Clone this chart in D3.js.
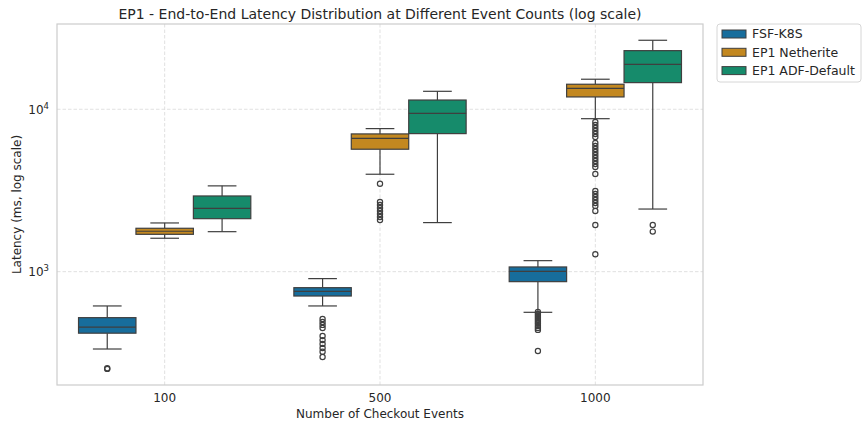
<!DOCTYPE html>
<html>
<head>
<meta charset="utf-8">
<script src="https://cdn.jsdelivr.net/npm/d3@7"></script>
<style>
  body { margin: 0; background: #fff; }
  svg { display: block; font-family: "DejaVu Sans", sans-serif; }
</style>
</head>
<body>
<svg id="chart" width="863" height="426"></svg>
<script>
// ---- Data ----
const categories = ["100", "500", "1000"];
const seriesNames = ["FSF-K8S", "EP1 Netherite", "EP1 ADF-Default"];
const seriesColors = ["#176d9c", "#c38820", "#168b6b"];

// box stats per category: [whiskerLow, q1, median, q3, whiskerHigh]
const fsfStats = [[334, 418, 455, 521, 615], [615, 708, 757, 797, 906], [562, 868, 1005, 1069, 1169]];
const netheriteStats = [[1606, 1698, 1773, 1850, 1995], [3980, 5675, 6620, 7050, 7600], [8750, 11910, 13460, 14260, 15310]];
const adfStats = [[1763, 2120, 2455, 2925, 3375], [2005, 7080, 9440, 11400, 12900], [2430, 14590, 18920, 22960, 26600]];

// outliers per category
const fsfOutliers = [
  [252, 254],
  [512, 490, 470, 450, 402, 379, 359, 339, 321, 298],
  [565, 549, 534, 519, 504, 490, 477, 463, 450, 438, 325]
];
const netheriteOutliers = [
  [],
  [3478, 2687, 2575, 2468, 2366, 2265, 2173, 2080],
  [8356, 7998, 7674, 7345, 7047, 6745, 6209, 5943, 5702, 5458, 5233, 5012, 4808, 4602, 4413, 3998,
   3140, 3006, 2884, 2761, 2649, 2541, 2364, 1940, 1280]
];
const adfOutliers = [[], [], [1940, 1765]];

const yTicks = [1000, 10000];
const yDomain = [200.5, 33500];

const allStats = [fsfStats, netheriteStats, adfStats];
const allOutliers = [fsfOutliers, netheriteOutliers, adfOutliers];

// ---- Layout ----
const svg = d3.select("#chart");
const M = { left: 57, right: 703, top: 24, bottom: 385 };

const x = d3.scaleBand().domain(categories).range([M.left, M.right]).padding(0);
const bw = x.bandwidth();
const xInner = d3.scaleBand().domain(seriesNames).range([0.1 * bw, 0.9 * bw]).padding(0);
const y = d3.scaleLog().domain(yDomain).range([M.bottom, M.top]);

const lineColor = "#3f3f3f";
const gridColor = "#dedede";

// grid
const grid = svg.append("g");
grid.selectAll("line.h").data(yTicks).join("line")
  .attr("x1", M.left).attr("x2", M.right)
  .attr("y1", d => y(d)).attr("y2", d => y(d))
  .attr("stroke", gridColor).attr("stroke-width", 0.9).attr("stroke-dasharray", "3.5,2");
grid.selectAll("line.v").data(categories).join("line")
  .attr("x1", d => x(d) + bw / 2).attr("x2", d => x(d) + bw / 2)
  .attr("y1", M.top).attr("y2", M.bottom)
  .attr("stroke", gridColor).attr("stroke-width", 0.9).attr("stroke-dasharray", "3.5,2");

// boxes
const boxes = svg.append("g");
seriesNames.forEach((s, si) => {
  categories.forEach((c, ci) => {
    const [wl, q1, med, q3, wh] = allStats[si][ci];
    const bx = x(c) + xInner(s);
    const w = xInner.bandwidth();
    const cx = bx + w / 2;
    const g = boxes.append("g");
    // whiskers
    g.append("line").attr("x1", cx).attr("x2", cx).attr("y1", y(q3)).attr("y2", y(wh))
      .attr("stroke", lineColor).attr("stroke-width", 1.2);
    g.append("line").attr("x1", cx).attr("x2", cx).attr("y1", y(q1)).attr("y2", y(wl))
      .attr("stroke", lineColor).attr("stroke-width", 1.2);
    g.append("line").attr("x1", cx - w / 4).attr("x2", cx + w / 4).attr("y1", y(wh)).attr("y2", y(wh))
      .attr("stroke", lineColor).attr("stroke-width", 1.2);
    g.append("line").attr("x1", cx - w / 4).attr("x2", cx + w / 4).attr("y1", y(wl)).attr("y2", y(wl))
      .attr("stroke", lineColor).attr("stroke-width", 1.2);
    // box
    g.append("rect").attr("x", bx).attr("width", w)
      .attr("y", y(q3)).attr("height", y(q1) - y(q3))
      .attr("fill", seriesColors[si]).attr("stroke", lineColor).attr("stroke-width", 1.2);
    // median
    g.append("line").attr("x1", bx).attr("x2", bx + w).attr("y1", y(med)).attr("y2", y(med))
      .attr("stroke", lineColor).attr("stroke-width", 1.2);
    // outliers
    g.selectAll("circle").data(allOutliers[si][ci]).join("circle")
      .attr("cx", cx).attr("cy", d => y(d)).attr("r", 2.6)
      .attr("fill", "none").attr("stroke", lineColor).attr("stroke-width", 1.2);
  });
});

// spines
svg.append("rect").attr("x", M.left).attr("y", M.top)
  .attr("width", M.right - M.left).attr("height", M.bottom - M.top)
  .attr("fill", "none").attr("stroke", "#cccccc").attr("stroke-width", 1.2);

// x axis
const xAxis = d3.axisBottom(x).tickSize(0).tickPadding(8);
const gx = svg.append("g").attr("transform", `translate(0,${M.bottom})`).call(xAxis);
gx.select(".domain").remove();
gx.selectAll("text").attr("font-size", 12).attr("fill", "#262626").attr("font-family", "DejaVu Sans");

// y axis
const yAxis = d3.axisLeft(y).tickValues(yTicks).tickSize(0).tickPadding(8).tickFormat(() => "");
const gy = svg.append("g").attr("transform", `translate(${M.left},0)`).call(yAxis);
gy.select(".domain").remove();
gy.selectAll(".tick").each(function (d) {
  const t = d3.select(this).select("text");
  t.attr("font-size", 12).attr("fill", "#262626").attr("font-family", "DejaVu Sans").attr("dy", "0.32em");
  t.append("tspan").text("10");
  t.append("tspan").text(Math.round(Math.log10(d))).attr("font-size", 8.5).attr("dy", "-0.55em");
});

// axis labels
svg.append("text").attr("x", (M.left + M.right) / 2).attr("y", 418)
  .attr("text-anchor", "middle").attr("font-size", 12).attr("fill", "#262626")
  .text("Number of Checkout Events");
svg.append("text").attr("transform", `translate(21,${(M.top + M.bottom) / 2}) rotate(-90)`)
  .attr("text-anchor", "middle").attr("font-size", 12).attr("fill", "#262626")
  .text("Latency (ms, log scale)");

// title
svg.append("text").attr("x", (M.left + M.right) / 2).attr("y", 19)
  .attr("text-anchor", "middle").attr("font-size", 14).attr("fill", "#262626")
  .text("EP1 - End-to-End Latency Distribution at Different Event Counts (log scale)");

// legend
const lg = svg.append("g");
lg.append("rect").attr("x", 717).attr("y", 24).attr("width", 144).attr("height", 58)
  .attr("rx", 3).attr("fill", "#fff").attr("stroke", "#d6d6d6").attr("stroke-width", 1);
seriesNames.forEach((s, i) => {
  const cy = 34 + i * 18.3;
  lg.append("rect").attr("x", 722).attr("y", cy - 4).attr("width", 24).attr("height", 8)
    .attr("fill", seriesColors[i]).attr("stroke", lineColor).attr("stroke-width", 1);
  lg.append("text").attr("x", 752).attr("y", cy).attr("dy", "0.35em")
    .attr("font-size", 12.5).attr("fill", "#262626").text(s);
});
</script>
</body>
</html>
